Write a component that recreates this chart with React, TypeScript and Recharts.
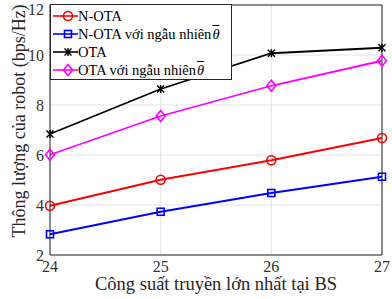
import { LineChart, Line, XAxis, YAxis, CartesianGrid, Legend, ReferenceLine } from 'recharts';

const powers = [24, 25, 26, 27];
const nOta = [3.97, 5.01, 5.79, 6.68];
const nOtaRandom = [2.83, 3.73, 4.48, 5.13];
const ota = [6.84, 8.64, 10.07, 10.29];
const otaRandom = [6.01, 7.56, 8.77, 9.77];
const yTicks = [2, 4, 6, 8, 10, 12];

const data = powers.map((p, i) => ({
  power: p,
  nOta: nOta[i],
  nOtaRandom: nOtaRandom[i],
  ota: ota[i],
  otaRandom: otaRandom[i]
}));

const FONT = '"Liberation Serif", "Times New Roman", serif';

type Shape = 'circle' | 'square' | 'star' | 'diamond';

function Marker({ shape, color, cx, cy }: { shape: Shape; color: string; cx: number; cy: number }) {
  if (shape === 'circle') {
    return <circle cx={cx} cy={cy} r={4.5} fill="none" stroke={color} strokeWidth={1.6} />;
  }
  if (shape === 'square') {
    return <rect x={cx - 3.5} y={cy - 3.5} width={7} height={7} fill="none" stroke={color} strokeWidth={1.6} />;
  }
  if (shape === 'diamond') {
    return (
      <polygon
        points={`${cx},${cy - 5.5} ${cx + 4.5},${cy} ${cx},${cy + 5.5} ${cx - 4.5},${cy}`}
        fill="none"
        stroke={color}
        strokeWidth={1.6}
      />
    );
  }
  const s = 3.5;
  return (
    <g stroke={color} strokeWidth={1.5}>
      <line x1={cx - s} y1={cy - s} x2={cx + s} y2={cy + s} />
      <line x1={cx - s} y1={cy + s} x2={cx + s} y2={cy - s} />
      <line x1={cx} y1={cy - s - 0.5} x2={cx} y2={cy + s + 0.5} />
    </g>
  );
}

const series: { key: string; color: string; shape: Shape; label: string; theta: boolean }[] = [
  { key: 'nOta', color: '#ff0000', shape: 'circle', label: 'N-OTA', theta: false },
  { key: 'nOtaRandom', color: '#0000ff', shape: 'square', label: 'N-OTA với ngẫu nhiên', theta: true },
  { key: 'ota', color: '#000000', shape: 'star', label: 'OTA', theta: false },
  { key: 'otaRandom', color: '#ff00ff', shape: 'diamond', label: 'OTA với ngẫu nhiên', theta: true }
];

function LegendBox() {
  return (
    <div
      style={{
        background: '#fff',
        border: '1px solid #262626',
        width: 182,
        height: 76,
        boxSizing: 'border-box',
        padding: '2px 0 0 2px',
        fontFamily: FONT,
        fontSize: 14.5,
        color: '#000',
        textAlign: 'left'
      }}
    >
      {series.map(s => (
        <div key={s.key} style={{ display: 'flex', alignItems: 'center', height: 18, whiteSpace: 'nowrap' }}>
          <svg width={25} height={14}>
            <line x1={0} y1={7} x2={25} y2={7} stroke={s.color} strokeWidth={1.6} />
            <Marker shape={s.shape} color={s.color} cx={15} cy={7} />
          </svg>
          <span>{s.label}</span>
          {s.theta && (
            <span style={{ fontStyle: 'italic', textDecoration: 'overline', marginLeft: 1 }}>θ</span>
          )}
        </div>
      ))}
    </div>
  );
}

export default function App() {
  return (
    <div style={{ position: 'absolute', left: 0, top: 0, background: '#fff' }}>
      <LineChart width={392} height={299} data={data} margin={{ top: 5, right: 10, bottom: 0, left: 0 }}>
        <CartesianGrid stroke="#e3e3e3" strokeWidth={1} />
        <XAxis
          dataKey="power"
          type="number"
          domain={[24, 27]}
          ticks={powers}
          height={44}
          tickLine={false}
          axisLine={{ stroke: '#262626', strokeWidth: 1 }}
          tick={{ fill: '#333', fontSize: 16, fontFamily: FONT }}
          tickMargin={0}
          label={{
            content: ({ viewBox }: any) => (
              <text x={viewBox.x + viewBox.width / 2} y={290} textAnchor="middle" fill="#262626" fontSize={18.5} fontFamily={FONT}>
                Công suất truyền lớn nhất tại BS
              </text>
            )
          }}
        />
        <YAxis
          type="number"
          domain={[2, 12]}
          ticks={yTicks}
          width={50}
          tickLine={false}
          axisLine={{ stroke: '#262626', strokeWidth: 1 }}
          tick={{ fill: '#333', fontSize: 16, fontFamily: FONT }}
          tickMargin={0}
          label={{
            content: ({ viewBox }: any) => {
              const cx = 19;
              const cy = viewBox.y + viewBox.height / 2 - 9;
              return (
                <text x={cx} y={cy} transform={`rotate(-90, ${cx}, ${cy})`} textAnchor="middle" dominantBaseline="central" fill="#262626" fontSize={18} fontFamily={FONT}>
                  Thông lượng của robot (bps/Hz)
                </text>
              );
            }
          }}
        />
        <ReferenceLine y={12} stroke="#262626" strokeWidth={1} />
        <ReferenceLine x={27} stroke="#262626" strokeWidth={1} />
        {series.map(s => (
          <Line
            key={s.key}
            dataKey={s.key}
            stroke={s.color}
            strokeWidth={1.8}
            isAnimationActive={false}
            dot={(p: any) => <Marker key={`${s.key}-${p.index}`} shape={s.shape} color={s.color} cx={p.cx} cy={p.cy} />}
            activeDot={false}
          />
        ))}
        <Legend
          layout="horizontal"
          verticalAlign="middle"
          align="center"
          content={() => <LegendBox />}
          wrapperStyle={{ position: 'absolute', left: 50, top: 4, width: 'auto', height: 'auto' }}
        />
      </LineChart>
    </div>
  );
}
